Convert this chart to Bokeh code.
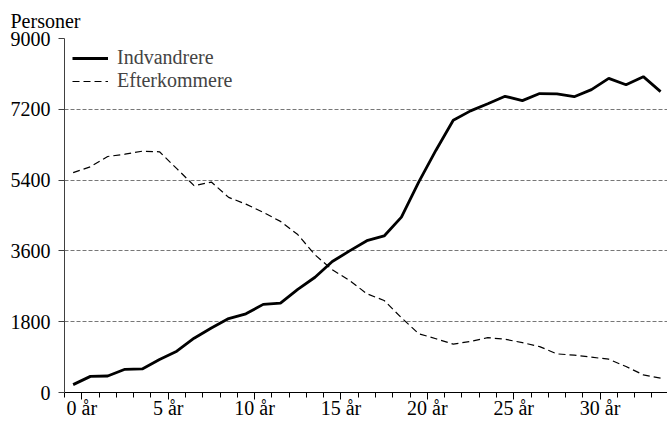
from bokeh.plotting import figure
from bokeh.models import FixedTicker, Range1d, Legend, LegendItem, Title
from bokeh.embed import file_html
from bokeh.resources import INLINE

# Data (ages 0..34)
ages = list(range(35))
indvandrere = [200, 410, 420, 590, 600, 840, 1050, 1380, 1640, 1880,
               2000, 2240, 2270, 2620, 2930, 3330, 3600, 3860, 3980, 4460,
               5350, 6160, 6920, 7160, 7340, 7530, 7420, 7600, 7590, 7520,
               7700, 7985, 7825, 8030, 7650]
efterkommere = [5590, 5740, 6000, 6060, 6135, 6120, 5690, 5260, 5350, 4960,
                4790, 4580, 4350, 4015, 3500, 3120, 2850, 2510, 2340, 1900,
                1494, 1367, 1230, 1300, 1395, 1354, 1268, 1167, 982, 949,
                898, 847, 660, 449, 366]

y_ticks = [0, 1800, 3600, 5400, 7200, 9000]
label_ages = [0, 5, 10, 15, 20, 25, 30]
label_texts = [f"{a} år" for a in label_ages]

FONT = "Liberation Serif"

p = figure(width=667, height=423,
           x_range=Range1d(-0.5, 34.4), y_range=Range1d(0, 9000),
           output_backend="svg", toolbar_location=None,
           min_border_left=64, min_border_right=0,
           min_border_top=38, min_border_bottom=31)
p.outline_line_color = None
p.background_fill_color = "white"

r1 = p.line(ages, indvandrere, line_color="black", line_width=2.8)
r2 = p.line(ages, efterkommere, line_color="black", line_width=1.2, line_dash="7 4")

legend = Legend(items=[LegendItem(label="Indvandrere", renderers=[r1]),
                       LegendItem(label="Efterkommere", renderers=[r2])],
                location="top_left", margin=8, padding=0, spacing=-1,
                glyph_width=36, glyph_height=20, label_height=20,
                label_standoff=9, border_line_color=None,
                background_fill_alpha=0,
                label_text_font=FONT, label_text_font_size="20px")
p.add_layout(legend)

# Y axis
p.yaxis.ticker = FixedTicker(ticks=y_ticks)
p.yaxis.major_label_text_font = FONT
p.yaxis.major_label_text_font_size = "20px"
p.yaxis.major_label_text_color = "black"
p.yaxis.axis_line_color = "#404040"
p.yaxis.major_tick_line_color = "#404040"
p.yaxis.major_tick_out = 6
p.yaxis.major_tick_in = 0
p.yaxis.minor_tick_line_color = None
p.yaxis.major_label_standoff = 8

# X axis
tick_pos = [a + 0.5 for a in label_ages]
minor_pos = [a - 0.5 for a in range(36)]
p.xaxis.ticker = FixedTicker(ticks=tick_pos, minor_ticks=minor_pos)
p.xaxis.major_label_overrides = {t: s for t, s in zip(tick_pos, label_texts)}
p.xaxis.major_label_text_font = FONT
p.xaxis.major_label_text_font_size = "20px"
p.xaxis.major_label_text_color = "black"
p.xaxis.axis_line_color = "black"
p.xaxis.major_tick_line_color = "black"
p.xaxis.minor_tick_line_color = "black"
p.xaxis.major_tick_out = 7
p.xaxis.major_tick_in = 0
p.xaxis.minor_tick_out = 5
p.xaxis.minor_tick_in = 0
p.xaxis.major_label_standoff = -3

# Grid
p.xgrid.visible = False
p.ygrid.ticker = FixedTicker(ticks=y_ticks)
p.ygrid.grid_line_color = "#777777"
p.ygrid.grid_line_dash = "4 2"
p.ygrid.grid_line_width = 1

p.add_layout(Title(text="Personer", align="left", offset=-54,
                   text_font=FONT, text_font_size="20px",
                   text_font_style="normal", text_color="black",
                   standoff=14), "above")

open("out.html", "w").write(file_html(p, INLINE))
